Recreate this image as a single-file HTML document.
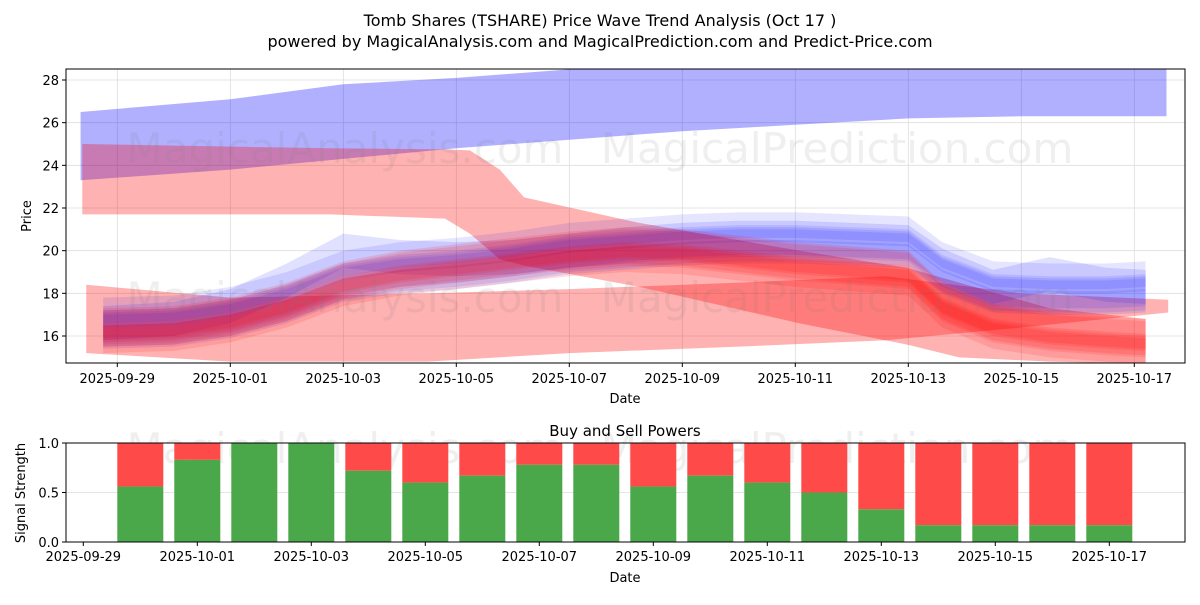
<!DOCTYPE html>
<html><head><meta charset="utf-8"><style>
body{margin:0;background:#fff;font-family:"Liberation Sans","DejaVu Sans",sans-serif}
svg text{font-family:"DejaVu Sans","Liberation Sans",sans-serif}
</style></head><body>
<svg id="c" width="1200" height="600" xmlns="http://www.w3.org/2000/svg">
<rect width="1200" height="600" fill="#fff"/>
<text x="600" y="26" text-anchor="middle" font-size="16">Tomb Shares (TSHARE) Price Wave Trend Analysis (Oct 17 )</text>
<text x="600" y="47" text-anchor="middle" font-size="16">powered by MagicalAnalysis.com and MagicalPrediction.com and Predict-Price.com</text>
<g id="topg"></g><g id="botg"></g>
</svg>
<script>
const bandDays=[-0.25,1,2,3,4,5,6,7,8,9,10,11,12,13,14,14.6,15.5,16.5,17.5,18.2];
const blueCenter=[16.4,16.5,16.9,17.6,18.6,19.0,19.2,19.5,19.9,20.1,20.3,20.4,20.4,20.3,20.2,19.0,18.1,18.0,18.0,18.1];
const redCenter=[16.3,16.4,16.8,17.5,18.5,19.0,19.3,19.6,19.9,20.1,20.0,19.7,19.4,19.2,19.0,17.5,16.5,16.1,15.9,15.8];
const bluePeakCenter=[16.6,16.8,17.4,18.6,20.0,19.7,19.6,19.7,20.0,20.3,20.5,20.6,20.6,20.5,20.4,19.3,18.3,18.9,18.4,18.3];
const blueOffsets=[-0.4,0,0.4,0.8,-0.2];
const blueWidths=[1.0,1.4,0.8,1.2,1.6];
const redOffsets=[-0.5,-0.1,0.3,-0.3,0.1];
const redWidths=[1.2,0.8,1.4,1.0,1.6];
const bigBlueDays=[-0.65,2,4,6,8,10,12,14,16,18.57];
const bigBlueUpper=[26.5,27.1,27.8,28.1,28.5,28.5,28.5,28.5,28.5,28.5];
const bigBlueLower=[23.3,23.8,24.3,24.8,25.2,25.6,25.9,26.2,26.3,26.3];
const redFallDays=[-0.62,3.76,5.8,6.24,6.77,7.2,9.24,12.07,13.97,14.9,16.5,18.2];
const redFallUpper=[25,24.8,24.75,24.7,23.8,22.5,21.3,20.0,19.2,18.5,17.3,16.8];
const redFallLower=[21.7,21.7,21.5,20.8,19.6,19.3,18.3,16.6,15.6,15.0,14.8,14.7];
const redLowDays=[-0.55,2,5.5,8,11,13.6,16,18.6];
const redLowUpper=[18.4,17.8,18.0,18.2,18.5,18.8,18.0,17.7];
const redLowLower=[15.2,14.8,14.8,15.2,15.5,15.8,16.4,17.1];
const yTicks=[16,18,20,22,24,26,28];
const xTickLabels=["2025-09-29","2025-10-01","2025-10-03","2025-10-05","2025-10-07","2025-10-09","2025-10-11","2025-10-13","2025-10-15","2025-10-17"];
const barDays=[1,2,3,4,5,6,7,8,9,10,11,12,13,14,15,16,17,18];
const buyPower=[0.56,0.83,1.0,1.0,0.72,0.6,0.67,0.78,0.78,0.56,0.67,0.6,0.5,0.33,0.17,0.17,0.17,0.17];
const bTicks=[0,0.5,1.0];

const NS="http://www.w3.org/2000/svg";
function mk(t,a,p){const e=document.createElementNS(NS,t);for(const k in a)e.setAttribute(k,a[k]);p.appendChild(e);return e;}
const topG=document.getElementById('topg'),botG=document.getElementById('botg');
const L=66,R=1185,T=69,B=363;
const X=d=>117.3+d*56.5, Y=v=>336-(v-16)*21.333;
const bx=d=>83.3+d*57, by=v=>542-v*99;
xTickLabels.forEach((s,i)=>{const x=X(i*2);const g=mk('line',{x1:x,x2:x,y1:T,y2:B,stroke:'#ddd','stroke-width':0.8},topG);});
yTicks.forEach(v=>{const g=mk('line',{x1:L,x2:R,y1:Y(v),y2:Y(v),stroke:'#ddd','stroke-width':0.8},topG);});
const cp=mk('clipPath',{id:'cl'},topG);mk('rect',{x:L,y:T,width:R-L,height:B-T},cp);
const gg=mk('g',{'clip-path':'url(#cl)'},topG);
function band2(days,up,lo,fill,name){
  let pts=days.map((d,i)=>X(d)+','+Y(up[i]));
  for(let i=days.length-1;i>=0;i--)pts.push(X(days[i])+','+Y(lo[i]));
  const p=mk('polygon',{points:pts.join(' '),fill:fill},gg);
  
  
}
band2(bigBlueDays,bigBlueUpper,bigBlueLower,'rgba(0,0,255,0.31)','wide-blue-band');
band2(redFallDays,redFallUpper,redFallLower,'rgba(255,0,0,0.3)','falling-red-band');
band2(redLowDays,redLowUpper,redLowLower,'rgba(255,0,0,0.3)','lower-red-band');
band2(bandDays,bluePeakCenter.map(v=>v+0.8),bluePeakCenter.map(v=>v-0.8),'rgba(0,0,255,0.12)','blue-peak-band');
blueOffsets.forEach((o,k)=>{const w=blueWidths[k];band2(bandDays,blueCenter.map(v=>v+o+w/2),blueCenter.map(v=>v+o-w/2),'rgba(0,0,255,0.1)','blue-wave-band');});
redOffsets.forEach((o,k)=>{const w=redWidths[k];band2(bandDays,redCenter.map(v=>v+o+w/2),redCenter.map(v=>v+o-w/2),'rgba(255,0,0,0.13)','red-wave-band');});
[[345,163,'MagicalAnalysis.com'],[837,163,'MagicalPrediction.com'],[345,312,'MagicalAnalysis.com'],[837,312,'MagicalPrediction.com'],[345,463,'MagicalAnalysis.com'],[837,463,'MagicalPrediction.com']].forEach(w=>{const t=mk('text',{x:w[0],y:w[1],'text-anchor':'middle','font-size':42,fill:'rgba(120,120,120,0.12)'},topG);t.textContent=w[2];});
mk('rect',{x:L,y:T,width:R-L,height:B-T,fill:'none',stroke:'#000','stroke-width':1},topG);
yTicks.forEach(v=>{mk('line',{x1:L-4,x2:L,y1:Y(v),y2:Y(v),stroke:'#000'},topG);const t=mk('text',{x:L-7,y:Y(v)+5,'text-anchor':'end','font-size':13},topG);t.textContent=v;});
xTickLabels.forEach((s,i)=>{const x=X(i*2);mk('line',{x1:x,x2:x,y1:B,y2:B+4,stroke:'#000'},topG);const t=mk('text',{x:x,y:B+20,'text-anchor':'middle','font-size':13},topG);t.textContent=s;});
let t=mk('text',{x:625,y:403,'text-anchor':'middle','font-size':13},topG);t.textContent='Date';
t=mk('text',{x:31,y:216,'text-anchor':'middle','font-size':13,transform:'rotate(-90 31 216)'},topG);t.textContent='Price';
const BL=66,BR=1185,BT=443,BB=542;
const gl=mk('line',{x1:BL,x2:BR,y1:by(0.5),y2:by(0.5),stroke:'#ddd','stroke-width':0.8},botG);
barDays.forEach((d,i)=>{const x=bx(d)-23;const v=buyPower[i];
 const r=mk('rect',{x:x,y:by(1),width:46,height:by(v)-by(1),fill:'#ff4a4a'},botG);
 const gr=mk('rect',{x:x,y:by(v),width:46,height:BB-by(v),fill:'#4aa84a'},botG);});
mk('rect',{x:BL,y:BT,width:BR-BL,height:BB-BT,fill:'none',stroke:'#000'},botG);
bTicks.forEach(v=>{mk('line',{x1:BL-4,x2:BL,y1:by(v),y2:by(v),stroke:'#000'},botG);const t=mk('text',{x:BL-7,y:by(v)+5,'text-anchor':'end','font-size':13},botG);t.textContent=v.toFixed(1);});
xTickLabels.forEach((s,i)=>{const x=bx(i*2);mk('line',{x1:x,x2:x,y1:BB,y2:BB+4,stroke:'#000'},botG);const t=mk('text',{x:x,y:BB+19,'text-anchor':'middle','font-size':13},botG);t.textContent=s;});
t=mk('text',{x:625,y:436,'text-anchor':'middle','font-size':15},botG);t.textContent='Buy and Sell Powers';
t=mk('text',{x:625,y:582,'text-anchor':'middle','font-size':13},botG);t.textContent='Date';
t=mk('text',{x:25,y:493,'text-anchor':'middle','font-size':13,transform:'rotate(-90 25 493)'},botG);t.textContent='Signal Strength';
</script>
</body></html>
